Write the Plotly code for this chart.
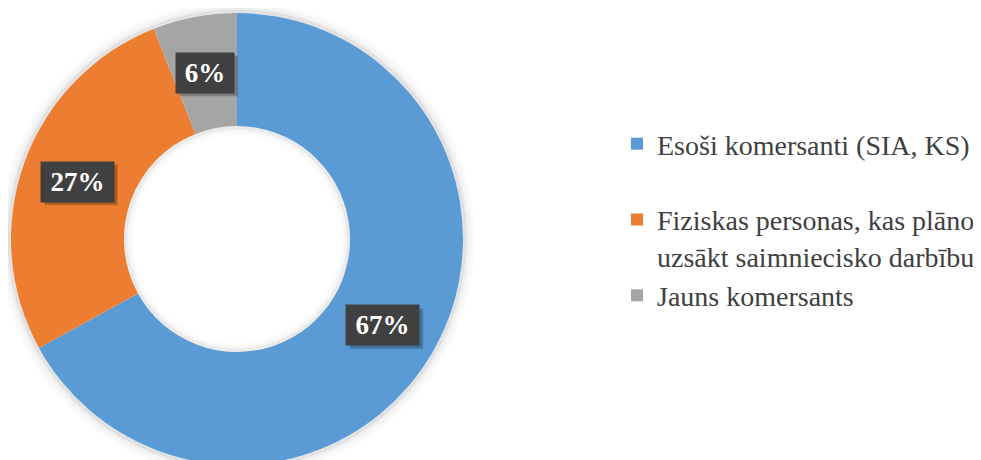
import math
import plotly.graph_objects as go

categories = [
    "Esoši komersanti (SIA, KS)",
    " <br>Fiziskas personas, kas plāno<br>uzsākt saimniecisko darbību",
    "Jauns komersants",
]
values = [67, 27, 6]
label_texts = ["67%", "27%", "6%"]
colors = ["#5B9BD5", "#ED7D31", "#A5A5A5"]

SERIF = '"Liberation Serif", "Times New Roman", Times, serif'

W, H = 981, 460
MT, MB = 5, 3
PH = H - MT - MB
R = PH / 2
CX = 229
CY = MT + R
HOLE = 0.5

fig = go.Figure()
fig.add_trace(go.Pie(
    labels=categories,
    values=values,
    hole=HOLE,
    sort=False,
    direction="clockwise",
    rotation=0,
    marker=dict(colors=colors, line=dict(width=0)),
    textinfo="none",
    hoverinfo="label+percent",
    domain=dict(x=[(CX - R) / W, (CX + R) / W], y=[0, 1]),
))


def to_paper(px, py):
    return px / W, (H - MB - py) / PH


shapes = []
# soft outer shadow around the ring
for dr, a in [(1.5, 0.11), (4, 0.07), (7, 0.04), (10, 0.02)]:
    r = R + dr
    x0, y0 = to_paper(CX - r, CY + r)
    x1, y1 = to_paper(CX + r, CY - r)
    shapes.append(dict(type="circle", xref="paper", yref="paper", x0=x0, y0=y0, x1=x1, y1=y1,
                       line=dict(color=f"rgba(0,0,0,{a})", width=3), layer="below"))
# inner shadow in the hole
for dr, a in [(1.5, 0.08), (4, 0.045), (7, 0.02)]:
    r = R * HOLE - dr
    x0, y0 = to_paper(CX - r, CY + r)
    x1, y1 = to_paper(CX + r, CY - r)
    shapes.append(dict(type="circle", xref="paper", yref="paper", x0=x0, y0=y0, x1=x1, y1=y1,
                       line=dict(color=f"rgba(0,0,0,{a})", width=3), layer="above"))

annotations = []
total = sum(values)
cum = 0
rm = R * (1 + HOLE) / 2
for v, t in zip(values, label_texts):
    mid = (cum + v / 2) / total * 2 * math.pi
    cum += v
    px = CX + rm * math.sin(mid)
    py = CY - rm * math.cos(mid)
    bw = 63 if len(t) == 3 else 48
    bh = 30
    pad = 5
    hw, hh = bw / 2 + pad, bh / 2 + pad
    # drop shadow
    for off, a in [(4, 0.12), (3, 0.18)]:
        sx0, sy0 = to_paper(px - hw + off, py + hh + off)
        sx1, sy1 = to_paper(px + hw + off, py - hh + off)
        shapes.append(dict(type="rect", xref="paper", yref="paper", x0=sx0, y0=sy0, x1=sx1, y1=sy1,
                           line=dict(width=0), fillcolor=f"rgba(0,0,0,{a})", layer="above"))
    ax, ay = to_paper(px, py)
    annotations.append(dict(x=ax, y=ay, xref="paper", yref="paper", xanchor="center", yanchor="middle",
                            text=f"<b>{t}</b>", showarrow=False,
                            font=dict(family=SERIF, size=27, color="#FFFFFF"),
                            bgcolor="#404040", width=bw, height=bh, borderpad=pad))

fig.update_layout(
    width=W, height=H,
    margin=dict(l=0, r=0, t=MT, b=MB),
    paper_bgcolor="white",
    plot_bgcolor="white",
    showlegend=True,
    legend=dict(
        x=609 / W, y=(H - MB - 111) / PH, xanchor="left", yanchor="top",
        font=dict(family=SERIF, size=28, color="#404040"),
        valign="middle", bgcolor="rgba(0,0,0,0)",
    ),
    shapes=shapes,
    annotations=annotations,
)

fig.write_html("out.html")
